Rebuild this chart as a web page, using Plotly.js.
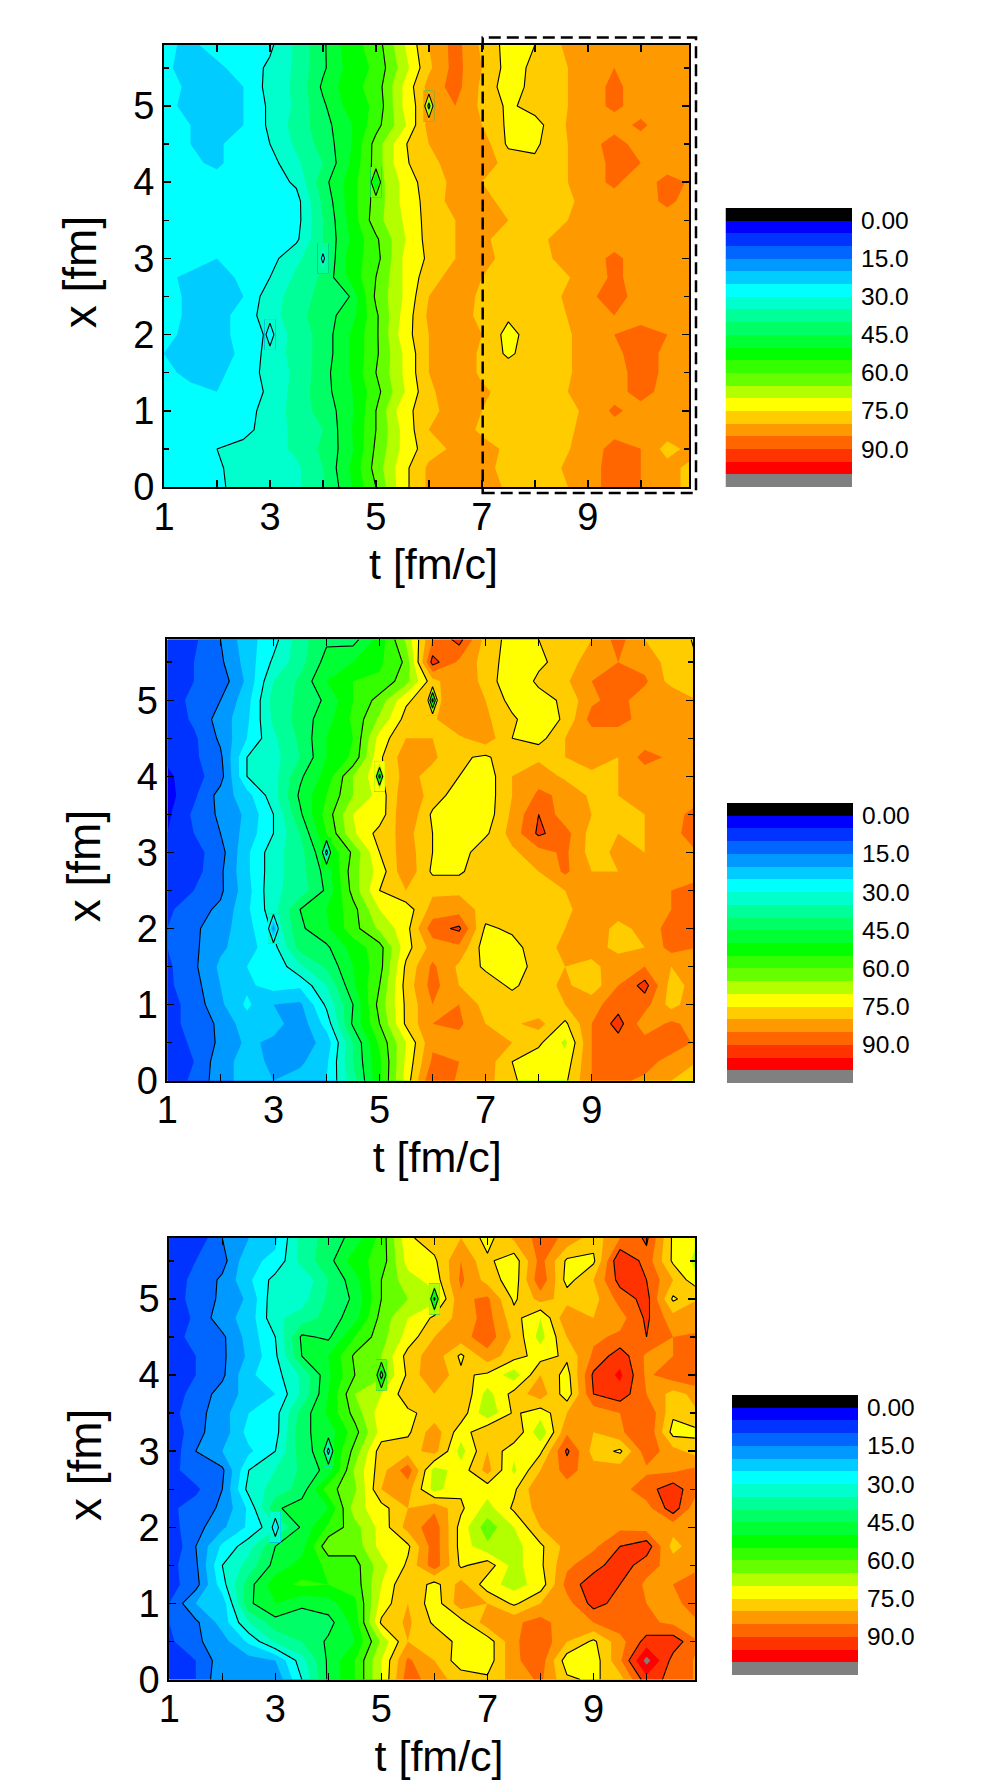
<!DOCTYPE html>
<html><head><meta charset="utf-8"><script src="https://cdn.plot.ly/plotly-3.0.1.min.js"></script>
<style>html,body{margin:0;padding:0;background:#fff}</style></head><body><div id="g" style="width:988px;height:1792px"></div>
<script>
const tGrid=[1,1.5,2,2.5,3,3.5,4,4.5,5,5.5,6,6.5,7,7.5,8,8.5,9,9.5,10,10.5,11];
const xGridTopDown=[5.8,5.5,5.25,5,4.75,4.5,4.25,4,3.75,3.5,3.25,3,2.75,2.5,2.25,2,1.75,1.5,1.25,1,.75,.5,.25,0];
const bandColors=['#000000','#0000ff','#0033ff','#0066ff','#0099ff','#00ccff','#00ffff','#00ffcc','#00ff99','#00ff66','#00ff33','#00ff00','#33ff00','#66ff00','#b3ff00','#ffff00','#ffcc00','#ff9900','#ff6600','#ff3300','#ff0000','#808080'];
const bandEdges=[-5,0,5,10,15,20,25,30,35,40,45,50,55,60,65,70,75,80,85,90,95,100,105];
const legendTickVals=[0,15,30,45,60,75,90];
const legendTickText=['0.00','15.0','30.0','45.0','60.0','75.0','90.0'];
const dipT=[3,4,5,6], dipX=[2,3,4,5];
const dipLow1=[27,26,45,55], dipLow2=[16,25,40,40], dipLow3=[24,25,38,42];
const panel1=[
[26,24,27,28,29,36,44,53,57,69,80,87,79,73,75,80,85,84,82,82,82],
[26,23,24,27,31,36,44,52,56,67,79,87,80,73,76,79,83,85,84,82,82],
[27,24,23,25,32,36,46,53,57,70,82,87,79,72,77,79,83,86,83,82,82],
[27,23,23,25,31,36,44,52,56,70,80,85,79,74,77,79,83,86,83,82,82],
[27,25,24,25,31,37,43,49,58,68,82,83,80,74,73,79,85,83,86,82,82],
[27,25,24,28,30,36,42,49,62,74,80,83,83,74,74,79,83,87,83,82,82],
[27,26,24,28,28,34,40,50,62,74,78,83,83,78,76,79,83,86,85,82,82],
[27,27,27,27,27,31,43,52,62,71,78,81,80,78,78,79,83,86,82,87,84],
[27,27,27,27,27,28,41,52,62,71,77,82,81,79,78,78,82,83,83,86,83],
[27,27,27,27,27,28,40,51,63,70,77,80,82,80,78,79,83,83,83,83,83],
[27,27,27,27,27,29,40,50,59,69,77,80,81,78,78,82,83,83,83,83,83],
[27,27,25,27,28,34,39,52,58,70,76,80,82,78,78,81,83,86,83,83,83],
[26,24,23,26,30,36,41,51,60,70,78,82,80,78,78,79,82,86,83,83,83],
[27,24,23,25,33,37,42,45,61,70,80,83,79,78,78,80,84,87,83,83,83],
[27,24,23,27,33,38,43,47,59,71,81,84,78,76,78,79,84,85,83,85,83],
[26,24,23,27,31,37,42,50,59,72,80,84,80,73,78,78,83,85,87,85,83],
[25,24,23,26,32,37,42,50,59,70,80,84,79,74,78,78,83,84,87,84,83],
[26,24,24,27,32,36,43,50,60,70,80,84,79,78,80,78,83,83,87,84,83],
[27,26,25,27,31,37,43,49,58,69,79,83,81,78,78,79,83,83,87,83,83],
[27,27,27,28,32,37,42,48,60,73,78,83,80,77,80,78,81,86,83,83,83],
[27,27,27,28,33,36,40,49,60,71,80,83,79,78,78,78,82,83,83,83,83],
[26,28,30,32,33,36,41,48,61,71,78,81,82,79,78,79,82,87,85,78,82],
[27,27,29,33,33,34,40,50,62,73,81,83,82,78,78,80,83,87,85,82,78],
[27,27,29,32,33,34,39,49,60,73,81,83,83,79,79,79,83,87,85,81,79]];
const panel2=[
[7,9,15,23,28,38,44,43,52,66,85,92,78,73,75,78,80,87,80,78,74],
[7,10,14,22,31,38,47,50,54,61,92,84,78,72,74,77,83,85,83,78,75],
[6,10,12,21,35,41,50,55,56,63,78,85,78,71,76,79,85,87,86,78,77],
[6,12,15,23,37,41,46,55,62,74,79,82,80,73,73,76,84,87,82,85,80],
[6,11,17,24,36,42,48,56,66,77,79,85,81,76,71,76,87,87,83,82,80],
[5,9,16,25,34,41,50,55,72,80,80,79,83,75,73,80,82,82,82,83,82],
[6,9,14,30,33,40,50,56,74,83,81,76,74,79,79,80,82,80,87,84,83],
[4,8,13,30,33,44,52,65,74,82,78,75,72,80,83,79,79,80,82,84,83],
[3,9,17,23,33,46,55,65,72,84,78,72,72,80,86,84,79,80,82,85,84],
[4,11,16,21,30,44,57,70,72,85,74,71,72,81,90,82,80,78,80,84,86],
[5,10,15,22,30,40,55,69,77,82,75,71,74,82,91,87,78,80,80,82,90],
[6,8,13,24,33,38,50,61,75,83,75,72,79,79,83,86,78,81,80,84,85],
[6,8,14,24,33,38,47,63,72,84,74,74,79,78,80,86,80,80,82,83,83],
[7,10,14,23,34,37,46,62,75,80,79,79,79,79,78,80,82,83,85,85,87],
[9,13,16,24,33,45,50,58,70,72,82,83,78,77,77,78,85,83,82,85,87],
[10,14,18,23,31,44,49,58,66,73,88,91,74,76,79,80,84,78,82,87,85],
[10,14,19,23,28,42,44,52,58,73,82,84,72,73,78,81,83,78,80,87,85],
[9,14,21,25,26,34,41,50,58,76,86,79,74,71,78,80,78,84,85,80,82],
[9,13,20,24,27,26,35,49,60,77,87,80,78,74,78,81,77,85,92,78,82],
[8,12,19,26,20,19,31,45,62,76,85,85,78,78,75,80,83,88,87,78,84],
[8,12,16,23,22,17,27,46,60,76,85,86,80,79,82,74,85,92,82,86,83],
[7,11,16,21,19,17,22,40,56,70,84,83,85,80,76,69,85,88,87,88,84],
[7,10,18,22,19,19,24,40,54,71,86,85,83,75,72,72,85,87,87,83,80],
[7,11,18,22,20,22,25,38,54,72,90,84,82,76,71,74,85,86,84,80,74]];
const panel3=[
[8,6,15,20,24,37,42,47,57,74,78,80,73,81,87,84,77,85,91,74,70],
[9,10,13,24,26,37,43,53,57,72,74,85,76,72,87,74,74,95,88,74,68],
[8,11,16,24,32,31,40,48,60,68,72,86,78,72,89,73,80,92,90,80,70],
[7,12,16,21,34,33,41,46,60,65,68,84,86,74,82,78,78,87,92,74,80],
[6,11,18,22,34,37,42,48,62,70,76,82,87,77,70,84,80,83,91,82,82],
[6,13,14,22,30,46,44,55,63,72,80,83,88,79,68,80,84,86,90,85,86],
[6,10,14,21,29,45,50,61,65,77,83,74,83,77,73,76,86,93,84,85,87],
[5,10,14,24,28,36,49,60,64,76,85,76,74,67,80,73,91,96,84,88,90],
[7,12,17,22,25,36,50,65,70,78,80,80,68,77,83,72,90,93,85,78,82],
[8,13,18,25,28,42,51,62,73,74,77,78,66,76,72,80,82,85,90,76,80],
[5,14,17,27,28,44,47,58,72,74,83,72,80,80,66,84,80,84,90,73,74],
[6,15,20,24,30,43,48,62,78,78,82,68,80,71,74,91,78,74,88,82,77],
[8,13,14,30,35,41,47,66,78,88,68,72,82,69,80,87,82,83,84,84,87],
[8,9,15,32,37,42,58,64,80,82,68,74,72,74,85,83,80,83,88,93,85],
[9,12,16,26,44,48,50,68,73,80,84,76,68,76,82,82,84,85,83,93,80],
[8,13,19,26,34,46,56,63,72,82,88,73,62,70,80,85,83,84,83,82,85],
[5,15,26,33,45,48,64,62,72,74,88,73,66,68,74,82,84,90,93,78,84],
[8,14,30,37,47,52,56,58,68,76,88,74,78,68,74,84,88,93,87,83,84],
[8,13,28,43,53,56,55,57,70,80,73,82,72,68,72,87,93,90,84,85,88],
[10,20,22,44,50,46,48,54,72,80,72,83,80,74,80,83,92,88,85,84,87],
[10,14,22,35,43,42,43,52,76,81,74,73,83,84,87,82,85,88,86,84,85],
[9,14,18,26,36,40,46,50,66,80,79,73,72,84,89,80,74,83,92,93,85],
[7,10,18,18,20,33,46,55,70,86,80,72,72,84,88,72,72,84,102,88,84],
[7,10,19,20,16,30,46,55,70,88,82,78,76,82,86,76,74,78,93,88,84]];

const W=988,H=1792;
const panels=[
 {z:panel1,low:dipLow1,box:[164,689,45,487],bar:[725.5,852,208,487]},
 {z:panel2,low:dipLow2,box:[167.4,693,639.4,1080.7],bar:[727,853,803,1083]},
 {z:panel3,low:dipLow3,box:[169.3,694.8,1238,1679.6],bar:[732,858,1395,1675]}];
const colorscale=bandColors.map((c,i)=>[i/(bandColors.length-1),c]);
const stepScale=[];bandColors.forEach((c,i)=>{stepScale.push([i/22,c],[(i+1)/22,c]);});
const font='"Liberation Sans",Arial,sans-serif';
const yAsc=xGridTopDown.slice().reverse();
function pair(x,y,z,xa,ya){
 return [
 {type:'contour',x,y,z,xaxis:xa,yaxis:ya,colorscale,showscale:false,hoverinfo:'skip',autocontour:false,
  contours:{coloring:'fill',start:0,end:100,size:5,showlines:false},line:{width:0,smoothing:0}},
 {type:'contour',x,y,z,xaxis:xa,yaxis:ya,showscale:false,hoverinfo:'skip',autocontour:false,
  contours:{coloring:'none',start:0,end:90,size:15},line:{color:'#000',width:1.1,smoothing:0}}];
}
const data=[];const layout={width:W,height:H,margin:{l:0,r:0,t:0,b:0},paper_bgcolor:'#fff',plot_bgcolor:'#fff',showlegend:false,shapes:[]};
panels.forEach((p,i)=>{
 const n=i*2+1,xa='x'+(n===1?'':n),ya='y'+(n===1?'':n),xb='x'+(n+1),yb='y'+(n+1);
 const zAsc=p.z.slice().reverse();
 data.push(...pair(tGrid,yAsc,zAsc,xa,ya));
 dipT.forEach((t,k)=>{
  let b=zAsc[yAsc.indexOf(dipX[k])][tGrid.indexOf(t)];const l=p.low[k];
  if(b%5===0)b+=.5;
  data.push(...pair([t-.1,t,t+.1],[dipX[k]-.2,dipX[k],dipX[k]+.2],[[b,b,b],[b,l,b],[b,b,b]],xa,ya));
 });
 const [x0,x1,y0,y1]=p.box;
 const common={showgrid:false,zeroline:false,showline:true,linecolor:'#000',linewidth:2,mirror:'allticks',ticks:'inside',tickcolor:'#000',tickwidth:1.5,
   tickfont:{family:font,size:38,color:'#000'}};
 layout['xaxis'+(n===1?'':n)]={...common,anchor:'y'+(n===1?'':n),domain:[x0/W,x1/W],range:[1,10.91],tickmode:'array',tickvals:[1,3,5,7,9],ticklen:7,ticklabelstandoff:-5,
   minor:{tickvals:[2,4,6,8,10],ticks:'inside',ticklen:7,tickcolor:'#000',tickwidth:1.5},
   title:{text:'t [fm/c]',font:{family:font,size:43,color:'#000'},standoff:12}};
 layout['yaxis'+(n===1?'':n)]={...common,anchor:'x'+(n===1?'':n),domain:[1-y1/H,1-y0/H],range:[0,5.8],tickmode:'array',tickvals:[0,1,2,3,4,5],ticklen:7,
   minor:{tickvals:[.5,1.5,2.5,3.5,4.5,5.5],ticks:'inside',ticklen:5,tickcolor:'#000',tickwidth:1.5},
   title:{text:'x [fm]',font:{family:font,size:46,color:'#000'},standoff:22}};
 const [a0,a1,b0,b1]=p.bar;
 data.push({type:'heatmap',x:[0,1],y:bandEdges,z:bandEdges.slice(0,-1).map(v=>[v+2.5]),xaxis:xb,yaxis:yb,colorscale:stepScale,zmin:-5,zmax:105,showscale:false,hoverinfo:'skip',zsmooth:false});
 layout['xaxis'+(n+1)]={anchor:yb,domain:[a0/W,a1/W],range:[0,1],visible:false,fixedrange:true};
 layout['yaxis'+(n+1)]={anchor:xb,domain:[1-b1/H,1-b0/H],range:[105,-5],side:'right',showgrid:false,zeroline:false,showline:false,ticks:'',tickmode:'array',tickvals:legendTickVals,ticktext:legendTickText,tickfont:{family:font,size:24.5,color:'#000'},ticklabelstandoff:8};
});
layout.shapes.push({type:'rect',xref:'paper',yref:'paper',x0:482.7/W,x1:696/W,y0:1-493/H,y1:1-37.5/H,line:{color:'#000',width:2.5,dash:'12px,6px'},layer:'above'});
Plotly.newPlot('g',data,layout,{staticPlot:true,displayModeBar:false}).then(()=>{
 document.querySelectorAll('.xtitle,.x3title,.x5title').forEach(el=>{el.setAttribute('transform','translate(7,0) '+(el.getAttribute('transform')||''));});
 document.querySelectorAll('.ytitle,.y3title,.y5title').forEach(el=>{el.setAttribute('transform','translate(0,6) '+(el.getAttribute('transform')||''));});
});
</script></body></html>
